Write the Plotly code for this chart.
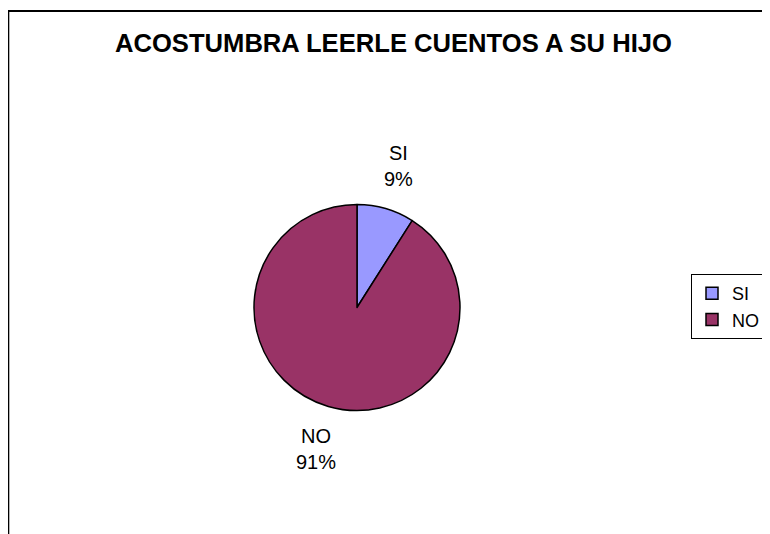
import math
import plotly.graph_objects as go

# ---- data ----
labels = ["SI", "NO"]
values = [9, 91]
colors = ["#9999FF", "#993366"]
title_text = "ACOSTUMBRA LEERLE CUENTOS A SU HIJO"

OFF = 8  # page body margin in the browser
W, H = 770 - OFF, 534 - OFF
FONT = "Arial, Liberation Sans, sans-serif"

def px_x(p):
    return (p - OFF) / W

def px_y(p):
    return 1 - (p - OFF) / H

# pie geometry (window pixels)
cx, cy, r = 357, 307.5, 103

fig = go.Figure(
    go.Pie(
        labels=labels,
        values=values,
        marker=dict(colors=colors, line=dict(color="black", width=1.5)),
        sort=False,
        direction="clockwise",
        rotation=0,
        textinfo="none",
        hoverinfo="label+percent",
        domain=dict(x=[px_x(cx - r), px_x(cx + r)], y=[px_y(cy + r), px_y(cy - r)]),
    )
)

# outside labels positioned at each slice's mid-angle
total = sum(values)
acc = 0
annotations = []
for lab, v in zip(labels, values):
    mid = (acc + v / 2) / total * 2 * math.pi
    acc += v
    lr = r * 1.43
    lx = cx + lr * math.sin(mid)
    ly = cy - lr * math.cos(mid)
    pct = round(v / total * 100)
    annotations.append(
        dict(
            x=px_x(lx), y=px_y(ly), xref="paper", yref="paper",
            text=f"{lab}<br>{pct}%", showarrow=False,
            font=dict(family=FONT, size=20, color="black"),
            xanchor="center", yanchor="middle", align="center",
        )
    )

annotations.append(
    dict(
        x=px_x(394), y=px_y(43), xref="paper", yref="paper",
        text=f"<b>{title_text}</b>", showarrow=False,
        font=dict(family=FONT, size=25.6, color="black"),
        xanchor="center", yanchor="middle",
    )
)

fig.update_layout(
    width=W, height=H, autosize=False,
    margin=dict(l=0, r=0, t=0, b=0),
    paper_bgcolor="white", plot_bgcolor="white",
    font=dict(family=FONT, color="black"),
    annotations=annotations,
    showlegend=True,
    legend=dict(
        x=px_x(691), y=px_y(274), xanchor="left", yanchor="top",
        bordercolor="black", borderwidth=1, bgcolor="white",
        font=dict(family=FONT, size=18, color="black"),
        tracegroupgap=0,
    ),
    shapes=[
        dict(type="rect", xref="paper", yref="paper",
             x0=px_x(8.3), x1=1.05, y0=-0.05, y1=px_y(11),
             line=dict(color="black", width=2), fillcolor="rgba(0,0,0,0)", layer="below"),
    ],
)

fig.write_html("out.html")
